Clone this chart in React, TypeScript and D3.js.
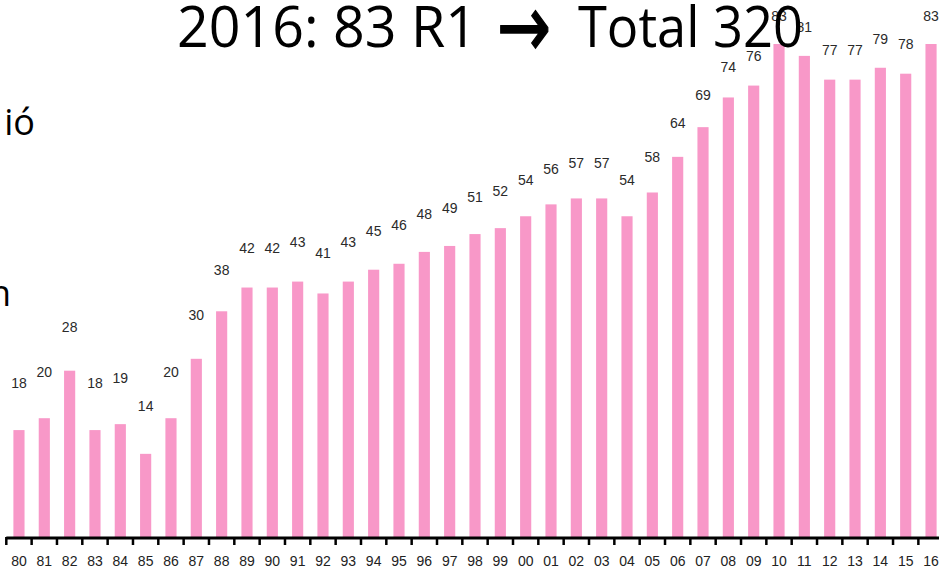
import React from "react";
import * as d3 from "d3";

const years = [
  "80", "81", "82", "83", "84", "85", "86", "87", "88", "89",
  "90", "91", "92", "93", "94", "95", "96", "97", "98", "99",
  "00", "01", "02", "03", "04", "05", "06", "07", "08", "09",
  "10", "11", "12", "13", "14", "15", "16",
];
const counts = [
  18, 20, 28, 18, 19, 14, 20, 30, 38, 42,
  42, 43, 41, 43, 45, 46, 48, 49, 51, 52,
  54, 56, 57, 57, 54, 58, 64, 69, 74, 76,
  83, 81, 77, 77, 79, 78, 83,
];
const titleParts = ["2016: 83 R1", "\u2192", "Total 320"];
const sideTexts = ["ió", "n"];

const W = 939;
const H = 568;
const cfg = {
  left: 6.3,
  right: 943.7,
  base: 537,
  top: 44,
  labelBase: 490,
  labelTop: 21,
  barColor: "#f898c8",
  font: "'Liberation Sans', Arial, sans-serif",
  titleFont: "'Open Sans', sans-serif",
};

function App() {
  const ref = React.useRef<SVGSVGElement>(null);

  React.useEffect(() => {
    const svg = d3.select(ref.current);
    svg.selectAll("*").remove();

    const x = d3
      .scaleBand<string>()
      .domain(years)
      .range([cfg.left, cfg.right])
      .paddingInner(0.56)
      .paddingOuter(0.28);
    const maxV = d3.max(counts) as number;
    const y = d3.scaleLinear().domain([0, maxV]).range([cfg.base, cfg.top]);
    // value labels sit on their own slightly flatter scale in the source
    const yLabel = d3
      .scaleLinear()
      .domain([0, maxV])
      .range([cfg.labelBase, cfg.labelTop]);

    const data = years.map((yr, i) => ({ yr, v: counts[i] }));

    svg
      .append("g")
      .selectAll("rect")
      .data(data)
      .join("rect")
      .attr("x", (d) => x(d.yr) as number)
      .attr("width", x.bandwidth())
      .attr("y", (d) => y(d.v))
      .attr("height", (d) => y(0) - y(d.v))
      .attr("fill", cfg.barColor);

    svg
      .append("g")
      .selectAll("text")
      .data(data)
      .join("text")
      .attr("x", (d) => (x(d.yr) as number) + x.bandwidth() / 2)
      .attr("y", (d) => yLabel(d.v))
      .attr("text-anchor", "middle")
      .attr("font-family", cfg.font)
      .attr("font-size", 14)
      .attr("fill", "#2a2a2a")
      .text((d) => d.v);

    // axis: thick baseline, ticks on the band boundaries, labels at band centers
    const step = x.step();
    const axis = svg.append("g");
    axis
      .append("line")
      .attr("x1", cfg.left)
      .attr("x2", W + 5)
      .attr("y1", y(0) + 1)
      .attr("y2", y(0) + 1)
      .attr("stroke", "#000")
      .attr("stroke-width", 3);
    axis
      .selectAll("line.tick")
      .data(d3.range(years.length + 1))
      .join("line")
      .attr("class", "tick")
      .attr("x1", (i) => cfg.left + i * step)
      .attr("x2", (i) => cfg.left + i * step)
      .attr("y1", y(0))
      .attr("y2", y(0) + 8)
      .attr("stroke", "#000")
      .attr("stroke-width", 2.5);
    axis
      .selectAll("text")
      .data(years)
      .join("text")
      .attr("x", (d) => (x(d) as number) + x.bandwidth() / 2)
      .attr("y", y(0) + 29)
      .attr("text-anchor", "middle")
      .attr("font-family", cfg.font)
      .attr("font-size", 14)
      .attr("fill", "#222")
      .text((d) => d);

    // title, drawn over the chart as on the slide
    const title = svg.append("g").attr("fill", "#000");
    title
      .append("text")
      .attr("x", 177)
      .attr("y", 47)
      .attr("font-family", cfg.titleFont)
      .attr("font-size", 56)
      .attr("textLength", 300)
      .attr("lengthAdjust", "spacingAndGlyphs")
      .text(titleParts[0]);
    title
      .append("text")
      .attr("x", 497)
      .attr("y", 57)
      .attr("font-family", "'DejaVu Sans', sans-serif")
      .attr("font-size", 88)
      .attr("stroke", "#000")
      .attr("stroke-width", 1.5)
      .attr("textLength", 54)
      .attr("lengthAdjust", "spacingAndGlyphs")
      .text(titleParts[1]);
    title
      .append("text")
      .attr("x", 578)
      .attr("y", 47)
      .attr("font-family", cfg.titleFont)
      .attr("font-size", 56)
      .attr("textLength", 225)
      .attr("lengthAdjust", "spacingAndGlyphs")
      .text(titleParts[2]);

    svg
      .append("text")
      .attr("x", 35)
      .attr("y", 135)
      .attr("text-anchor", "end")
      .attr("font-family", cfg.titleFont)
      .attr("font-size", 36)
      .attr("fill", "#000")
      .text(sideTexts[0]);
    svg
      .append("text")
      .attr("x", 11)
      .attr("y", 306)
      .attr("text-anchor", "end")
      .attr("font-family", cfg.titleFont)
      .attr("font-size", 36)
      .attr("fill", "#000")
      .text(sideTexts[1]);
  }, []);

  return (
    <svg
      ref={ref}
      width={W}
      height={H}
      style={{ position: "absolute", left: 0, top: 0, background: "#fff" }}
    />
  );
}

export default App;
